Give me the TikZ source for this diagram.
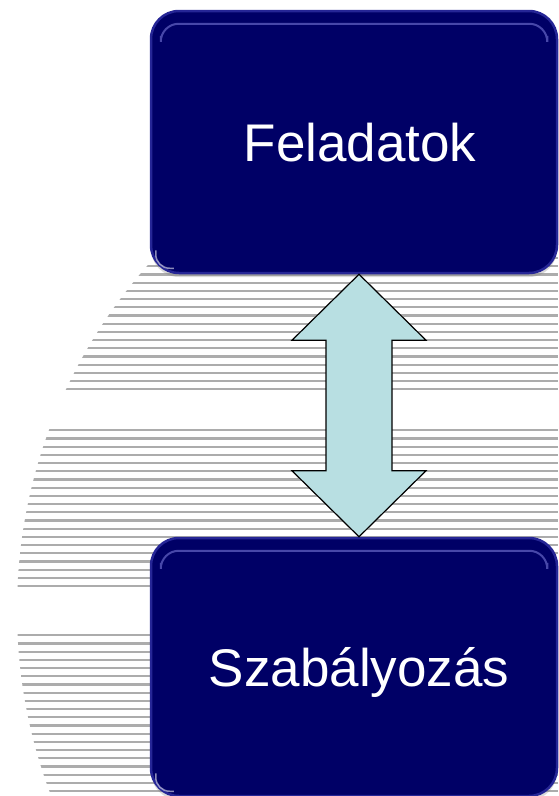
\documentclass[tikz,border=0pt]{standalone}
\usepackage{fontspec}
\setmainfont{Liberation Sans}
\usepackage{tikz}
\usetikzlibrary{calc}
\usetikzlibrary{shadows}
\definecolor{navy}{RGB}{0,0,102}
\definecolor{navyedge}{RGB}{38,38,150}
\definecolor{gloss}{RGB}{130,130,225}
\definecolor{paleteal}{RGB}{184,223,226}
\definecolor{stripe}{RGB}{172,172,172}
\tikzset{
  box/.style={rectangle, rounded corners=28pt, fill=navy, draw=navyedge, line width=2.5pt,
    minimum width=406pt, minimum height=262pt, text=white,
    font=\fontsize{53}{60}\selectfont, text height=38pt, text depth=0pt,
    drop shadow={shadow xshift=0pt, shadow yshift=-4pt, opacity=.3}},
  shine/.style={draw=gloss, line width=2pt, opacity=.55},
  glint/.style={draw=white, line width=1.5pt, opacity=.55},
  dblarrow/.style={fill=paleteal, draw=black, line width=1.2pt, line join=miter},
}
\begin{document}
\begin{tikzpicture}[x=1pt, y=-1pt]
  \useasboundingbox (0,0) rectangle (558,796);

  % striped disc in the back
  \begin{scope}
    \clip (537,610) circle (520pt);
    \foreach \a/\b in {0/16, 21/40, 46/65}
      \foreach \k in {\a,...,\b}
        \draw[stripe, line width=2.2pt] (0,258+8.2*\k) -- (558,258+8.2*\k);
  \end{scope}

  \node[box] (fel) at (354,142) {\hspace*{12pt}Feladatok};
  \node[box, minimum height=258pt] (szab) at (354,667) {\hspace*{10pt}Szabályozás};

  \foreach \b in {fel, szab} {
    \draw[shine, rounded corners=18pt] ([shift={(11pt,-26pt)}]\b.north west)
      |- ([shift={(-11pt,-14pt)}]\b.north east) -- ++(0,12);
    \draw[glint, rounded corners=14pt] ([shift={(6pt,24pt)}]\b.south west)
      |- ([shift={(24pt,6pt)}]\b.south west);
  }

  \coordinate (atop) at ([xshift=5pt]fel.south);
  \coordinate (abot) at ([xshift=5pt]szab.north);
  \draw[dblarrow] (atop) -- ++(67,66) -- ++(-34,0) -- ($(abot)+(33,-66)$) -- ++(34,0)
    -- (abot) -- ++(-67,-66) -- ++(34,0) -- ($(atop)+(-33,66)$) -- ++(-34,0) -- cycle;
\end{tikzpicture}
\end{document}
